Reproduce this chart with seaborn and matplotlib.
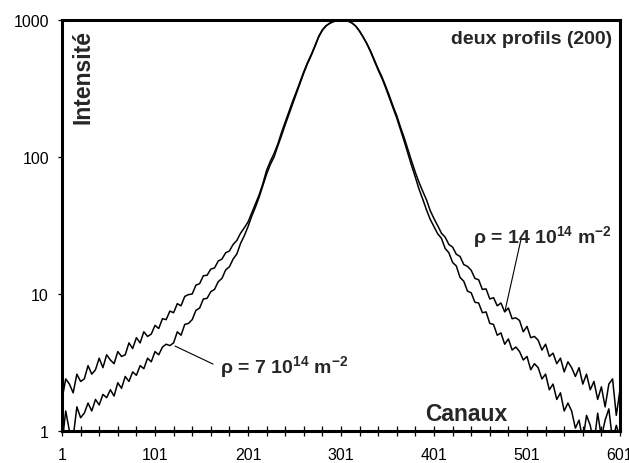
import numpy as np
import matplotlib
matplotlib.use("Agg")
import matplotlib.pyplot as plt
from matplotlib.ticker import FixedLocator, NullLocator
import seaborn as sns

# channel numbers (every 4th channel, 1..601)
channels = np.arange(1, 602, 4)

# rho = 14 10^14 m^-2 (broad profile)
broad = [
    1.7, 2.4, 2.2, 1.9, 2.6, 2.3, 2.4, 3.0, 2.6, 2.8,
    3.4, 2.9, 3.6, 3.3, 3.1, 3.8, 3.5, 3.6, 4.4, 4.0,
    4.8, 4.4, 5.3, 4.9, 5.1, 5.9, 5.6, 6.6, 6.5, 7.5,
    7.3, 8.5, 8.2, 9.6, 9.9, 10.0, 11.6, 11.9, 13.6, 13.7,
    15.2, 15.5, 17.4, 18.0, 20, 20.6, 23, 24.6, 27.8, 30.4,
    33.5, 39, 45.5, 53, 64, 80, 93, 106, 124, 151,
    180, 215, 255, 300, 355, 420, 490, 560, 650, 760,
    850, 910, 950, 975, 990, 1000, 995, 980, 950, 900,
    830, 750, 670, 590, 510, 440, 385, 330, 280, 235,
    200, 165, 138, 113, 93, 77, 65, 56, 48.5, 40.5,
    35.5, 31.5, 27.8, 26, 23, 22, 19.5, 18.8, 16.4, 15.9,
    14.9, 13.0, 12.7, 10.8, 10.9, 9.2, 9.4, 8.2, 8.6, 7.4,
    7.9, 6.6, 6.7, 6.4, 5.3, 5.8, 4.8, 4.9, 4.6, 3.9,
    4.3, 3.5, 3.7, 3.1, 3.4, 2.7, 3.2, 2.9, 2.5, 2.9,
    2.2, 2.6, 2.0, 2.3, 1.7, 2.1, 1.5, 2.2, 2.4, 1.3,
    2.0,
]

# rho = 7 10^14 m^-2 (narrow profile)
narrow = [
    0.8, 1.4, 1.0, 0.9, 1.5, 1.25, 1.35, 1.6, 1.4, 1.7,
    1.55, 1.85, 1.75, 2.0, 1.8, 2.25, 2.05, 2.5, 2.3, 2.7,
    2.55, 3.0, 2.85, 3.4, 3.2, 3.8, 3.6, 4.1, 4.3, 4.2,
    4.4, 5.3, 5.0, 6.0, 6.1, 6.5, 7.6, 7.9, 9.2, 9.3,
    10.4, 10.8, 12.3, 13.0, 15.0, 15.8, 18.0, 19.6, 23.4, 26.6,
    31, 37, 43, 51, 62, 75, 88, 100, 120, 143,
    172, 205, 245, 290, 345, 410, 480, 550, 640, 750,
    840, 905, 945, 975, 990, 1000, 995, 980, 950, 900,
    825, 745, 665, 580, 500, 430, 375, 320, 270, 228,
    192, 158, 130, 106, 86, 71, 58, 49, 41, 35,
    31, 27.5, 25.5, 21.5, 20, 17, 16, 13.2, 12.4, 10.5,
    10.2, 8.7, 8.6, 7.3, 7.4, 6.1, 6.0, 5.0, 5.2, 4.3,
    4.7, 3.9, 4.1, 3.8, 3.3, 3.5, 2.8, 3.1, 2.9, 2.4,
    2.6, 2.0, 2.2, 1.7, 1.9, 1.4, 1.6, 1.4, 1.05, 1.2,
    0.85, 1.3, 1.1, 0.8, 1.35, 0.9, 1.2, 1.45, 0.85, 1.1,
    0.9,
]

x_major = [1, 101, 201, 301, 401, 501, 601]
y_major = [1, 10, 100, 1000]

sns.set_theme(style="ticks")
plt.rcParams["font.family"] = ["Liberation Sans", "DejaVu Sans"]
plt.rcParams["mathtext.fontset"] = "custom"
plt.rcParams["mathtext.rm"] = "Liberation Sans:bold"
plt.rcParams["mathtext.bf"] = "Liberation Sans:bold"
plt.rcParams["mathtext.it"] = "Liberation Sans:bold"

fig = plt.figure(figsize=(6.29, 4.64), dpi=100)
ax = fig.add_axes([62 / 629, 32 / 464, 558 / 629, 411 / 464])

sns.lineplot(x=channels, y=broad, ax=ax, color="black", linewidth=1.1, estimator=None)
sns.lineplot(x=channels, y=narrow, ax=ax, color="black", linewidth=1.1, estimator=None)

ax.set_yscale("log")
ax.set_xlim(1, 601)
ax.set_ylim(1, 1000)
ax.set_xticks(x_major)
ax.set_xticklabels([str(v) for v in x_major])
ax.xaxis.set_minor_locator(FixedLocator(np.arange(1, 602, 20)))
ax.set_yticks(y_major)
ax.set_yticklabels([str(v) for v in y_major])
ax.yaxis.set_minor_locator(NullLocator())

ax.tick_params(axis="x", which="both", direction="inout", length=7, width=0.9,
               pad=8, labelsize=11.5, color="black", labelcolor="black")
ax.tick_params(axis="y", which="major", direction="out", length=3, width=0.9,
               pad=6.4, labelsize=11.5, color="black", labelcolor="black")
for sp in ax.spines.values():
    sp.set_linewidth(2.2)
    sp.set_color("black")
ax.set_xlabel("")
ax.set_ylabel("")

ax.text(0.9857, 0.944, "deux profils (200)", transform=ax.transAxes,
        ha="right", va="baseline", fontsize=14, fontweight="bold")
ax.text(0.0376, 0.978, "Intensité", transform=ax.transAxes, rotation=90,
        ha="center", va="top", fontsize=16.5, fontweight="bold")
ax.text(0.7975, 0.0268, "Canaux", transform=ax.transAxes,
        ha="right", va="baseline", fontsize=16.5, fontweight="bold")

ax.annotate("", xy=(122.5, 4.17), xytext=(163.4, 3.08),
            arrowprops=dict(arrowstyle="-", color="black", lw=0.8, shrinkA=0, shrinkB=0))
ax.text(171, 2.70, r"ρ = 7 10$^{14}$ m$^{-2}$", ha="left", va="baseline",
        fontsize=14, fontweight="bold")

ax.annotate("", xy=(477.3, 7.5), xytext=(494.5, 25),
            arrowprops=dict(arrowstyle="-", color="black", lw=0.8, shrinkA=0, shrinkB=0))
ax.text(442.9, 24.0, r"ρ = 14 10$^{14}$ m$^{-2}$", ha="left", va="baseline",
        fontsize=14, fontweight="bold")

fig.savefig("out.png", dpi=100, facecolor="white")
